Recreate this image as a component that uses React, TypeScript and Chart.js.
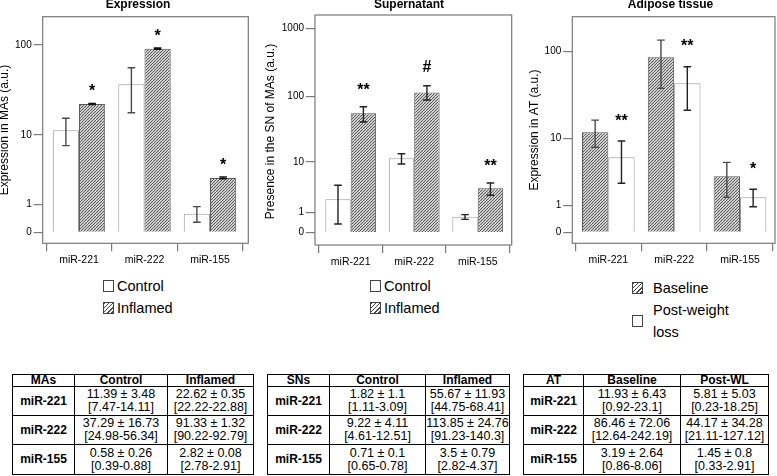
import React, { useEffect, useRef } from 'react';
import { Chart, registerables } from 'chart.js';

Chart.register(...registerables);

const FONT = "'Liberation Sans', Arial, Helvetica, sans-serif";

// ---------- data ----------
const categories = ['miR-221', 'miR-222', 'miR-155'];

// Panel 1: Expression in macrophages
const maControl = [11.39, 37.29, 0.58];
const maControlLow = [7.45, 18.0, 0.28];
const maControlHigh = [15.6, 56.7, 0.88];
const maInflamed = [22.62, 91.33, 2.82];
const maInflamedLow = [22.27, 90.0, 2.74];
const maInflamedHigh = [22.97, 92.65, 2.9];
const maSignificance = ['*', '*', '*'];
const maTicks = [0, 1, 10, 100];

// Panel 2: Supernatant
const snControl = [2.1, 11.4, 0.71];
const snControlLow = [0.34, 9.2, 0.57];
const snControlHigh = [3.97, 13.45, 0.84];
const snInflamed = [55.67, 113.85, 3.5];
const snInflamedLow = [41.2, 88.0, 2.54];
const snInflamedHigh = [69.8, 143.0, 4.37];
const snSignificance = ['**', '#', '**'];
const snTicks = [0, 1, 10, 100, 1000];

// Panel 3: Adipose tissue
const atBaseline = [11.93, 86.46, 3.19];
const atBaselineLow = [7.78, 38.6, 1.44];
const atBaselineHigh = [16.6, 135.0, 4.98];
const atPost = [5.81, 44.17, 1.45];
const atPostLow = [2.5, 21.6, 0.92];
const atPostHigh = [9.3, 67.9, 2.0];
const atSignificance = ['**', '**', '*'];
const atTicks = [0, 1, 10, 100];

// Tables
const maTableHead = ['MAs', 'Control', 'Inflamed'];
const maTableControl = [['11.39 ± 3.48', '[7.47-14.11]'], ['37.29 ± 16.73', '[24.98-56.34]'], ['0.58 ± 0.26', '[0.39-0.88]']];
const maTableInflamed = [['22.62 ± 0.35', '[22.22-22.88]'], ['91.33 ± 1.32', '[90.22-92.79]'], ['2.82 ± 0.08', '[2.78-2.91]']];
const snTableHead = ['SNs', 'Control', 'Inflamed'];
const snTableControl = [['1.82 ± 1.1', '[1.11-3.09]'], ['9.22 ± 4.11', '[4.61-12.51]'], ['0.71 ± 0.1', '[0.65-0.78]']];
const snTableInflamed = [['55.67 ± 11.93', '[44.75-68.41]'], ['113.85 ± 24.76', '[91.23-140.3]'], ['3.5 ± 0.79', '[2.82-4.37]']];
const atTableHead = ['AT', 'Baseline', 'Post-WL'];
const atTableBaseline = [['11.93 ± 6.43', '[0.92-23.1]'], ['86.46 ± 72.06', '[12.64-242.19]'], ['3.19 ± 2.64', '[0.86-8.06]']];
const atTablePost = [['5.81 ± 5.03', '[0.23-18.25]'], ['44.17 ± 34.28', '[21.11-127.12]'], ['1.45 ± 0.8', '[0.33-2.91]']];

// ---------- helpers ----------
const tf = (v: number) => Math.log10(v + 1);

function makeHatch(): any {
  const c = document.createElement('canvas');
  const s = 3;
  c.width = s;
  c.height = s;
  const g = c.getContext('2d')!;
  g.fillStyle = '#f4f4f4';
  g.fillRect(0, 0, s, s);
  g.strokeStyle = '#555555';
  g.lineWidth = 1.1;
  g.beginPath();
  for (const k of [-s, 0, s]) {
    g.moveTo(k, s);
    g.lineTo(k + s, 0);
  }
  g.stroke();
  return g.createPattern(c, 'repeat');
}

interface Series {
  label: string;
  values: number[];
  low: number[];
  high: number[];
  hatched: boolean;
  border: string;
  err: string;
}

interface PanelSpec {
  left: number;
  width: number;
  height: number;
  frame: { l: number; t: number; r: number; b: number };
  xMin: number;
  xMax: number;
  yMin: number;
  yMax: number;
  ticks: number[];
  title: string;
  titleX: number;
  yTitle: string;
  yTitleX: number;
  yTitleY: number;
  series: Series[];
  sig: string[];
  sigSeries: number;
  sigGap: number;
}

const panels: PanelSpec[] = [
  {
    left: 0, width: 255, height: 272,
    frame: { l: 42.7, t: 16.7, r: 248.3, b: 243.3 },
    xMin: -0.554, xMax: 2.585, yMin: -0.118, yMax: 2.307,
    ticks: maTicks,
    title: 'Expression', titleX: 138,
    yTitle: 'Expression in MAs (a.u.)', yTitleX: 5, yTitleY: 130,
    series: [
      { label: 'Control', values: maControl, low: maControlLow, high: maControlHigh, hatched: false, border: '#9a9a9a', err: '#4a4a4a' },
      { label: 'Inflamed', values: maInflamed, low: maInflamedLow, high: maInflamedHigh, hatched: true, border: '#5a5a5a', err: '#111111' },
    ],
    sig: maSignificance, sigSeries: 1, sigGap: 15.5,
  },
  {
    left: 255, width: 260, height: 272,
    frame: { l: 60, t: 15, r: 256.7, b: 245 },
    xMin: -0.562, xMax: 2.535, yMin: -0.181, yMax: 3.197,
    ticks: snTicks,
    title: 'Supernatant', titleX: 154,
    yTitle: 'Presence in the SN of MAs (a.u.)', yTitleX: 16, yTitleY: 131.5,
    series: [
      { label: 'Control', values: snControl, low: snControlLow, high: snControlHigh, hatched: false, border: '#9a9a9a', err: '#222222' },
      { label: 'Inflamed', values: snInflamed, low: snInflamedLow, high: snInflamedHigh, hatched: true, border: '#5a5a5a', err: '#222222' },
    ],
    sig: snSignificance, sigSeries: 1, sigGap: 20,
  },
  {
    left: 510, width: 267, height: 272,
    frame: { l: 62.3, t: 16.7, r: 265, b: 243.3 },
    xMin: -0.547, xMax: 2.532, yMin: -0.122, yMax: 2.393,
    ticks: atTicks,
    title: 'Adipose tissue', titleX: 160.5,
    yTitle: 'Expression in AT (a.u.)', yTitleX: 25, yTitleY: 130,
    series: [
      { label: 'Baseline', values: atBaseline, low: atBaselineLow, high: atBaselineHigh, hatched: true, border: '#5a5a5a', err: '#4a4a4a' },
      { label: 'Post-weight loss', values: atPost, low: atPostLow, high: atPostHigh, hatched: false, border: '#9a9a9a', err: '#222222' },
    ],
    sig: atSignificance, sigSeries: 1, sigGap: 24,
  },
];

function Panel({ spec }: { spec: PanelSpec }) {
  const ref = useRef<HTMLCanvasElement | null>(null);
  useEffect(() => {
    const canvas = ref.current;
    if (!canvas) return;
    const hatch = makeHatch();
    const f = spec.frame;
    const decor = {
      id: 'decor',
      afterDatasetsDraw(chart: any) {
        const ctx = chart.ctx;
        const ys = chart.scales.y;
        ctx.save();
        spec.series.forEach((s, d) => {
          const meta = chart.getDatasetMeta(d);
          meta.data.forEach((bar: any, i: number) => {
            const x = bar.x;
            const yH = ys.getPixelForValue(tf(s.high[i]));
            const yL = ys.getPixelForValue(tf(s.low[i]));
            ctx.strokeStyle = s.err;
            ctx.lineWidth = 1.4;
            ctx.beginPath();
            ctx.moveTo(x, yH);
            ctx.lineTo(x, yL);
            ctx.moveTo(x - 3.8, yH);
            ctx.lineTo(x + 3.8, yH);
            ctx.moveTo(x - 3.8, yL);
            ctx.lineTo(x + 3.8, yL);
            ctx.stroke();
          });
        });
        // significance markers
        const sS = spec.series[spec.sigSeries];
        const meta = chart.getDatasetMeta(spec.sigSeries);
        ctx.fillStyle = '#000';
        ctx.font = `bold 16px ${FONT}`;
        ctx.textAlign = 'center';
        ctx.textBaseline = 'alphabetic';
        spec.sig.forEach((m, i) => {
          if (!m) return;
          const bar: any = meta.data[i];
          const cy = ys.getPixelForValue(tf(sS.high[i])) - spec.sigGap;
          const mt = ctx.measureText(m);
          const base = cy + (mt.actualBoundingBoxAscent - mt.actualBoundingBoxDescent) / 2;
          ctx.fillText(m, bar.x, base);
        });
        ctx.restore();
      },
      afterDraw(chart: any) {
        const ctx = chart.ctx;
        const a = chart.chartArea;
        ctx.save();
        ctx.strokeStyle = '#7a7a7a';
        ctx.lineWidth = 1.2;
        ctx.strokeRect(a.left, a.top, a.right - a.left, a.bottom - a.top);
        ctx.fillStyle = '#000';
        ctx.font = `bold 12px ${FONT}`;
        ctx.textAlign = 'center';
        ctx.textBaseline = 'alphabetic';
        ctx.fillText(spec.title, spec.titleX, 7.5);
        ctx.translate(spec.yTitleX, spec.yTitleY);
        ctx.rotate(-Math.PI / 2);
        ctx.font = `12px ${FONT}`;
        ctx.textBaseline = 'middle';
        ctx.fillText(spec.yTitle, 0, 0);
        ctx.restore();
      },
    };
    const chart = new Chart(canvas, {
      type: 'bar',
      data: {
        datasets: spec.series.map((s) => ({
          label: s.label,
          data: s.values.map((v, i) => ({ x: i, y: tf(v) })),
          backgroundColor: s.hatched ? hatch : '#ffffff',
          borderColor: s.border,
          borderWidth: 1,
          categoryPercentage: 0.8,
          barPercentage: 1.0,
        })),
      } as any,
      options: {
        animation: false,
        responsive: false,
        events: [],
        layout: { padding: { left: 0, top: f.t, right: spec.width - f.r, bottom: 0 } },
        plugins: { legend: { display: false }, tooltip: { enabled: false }, title: { display: false } },
        scales: {
          x: {
            type: 'linear',
            min: spec.xMin,
            max: spec.xMax,
            offset: false,
            afterFit: (s: any) => { s.height = spec.height - f.b; },
            afterBuildTicks: (s: any) => { s.ticks = categories.map((_, i) => ({ value: i })); },
            ticks: {
              callback: (v: any) => categories[Math.round(v)] ?? '',
              font: { family: FONT, size: 10.5 },
              color: '#000',
              padding: 3,
              maxRotation: 0,
              autoSkip: false,
            },
            grid: { drawOnChartArea: false, drawTicks: true, tickLength: 8, color: '#7a7a7a', lineWidth: 1.2 },
            border: { display: false },
          },
          y: {
            type: 'linear',
            min: spec.yMin,
            max: spec.yMax,
            afterFit: (s: any) => { s.width = f.l; },
            afterBuildTicks: (s: any) => { s.ticks = spec.ticks.map((v) => ({ value: tf(v) })); },
            ticks: {
              callback: (_v: any, i: number) => String(spec.ticks[i]),
              font: { family: FONT, size: 10 },
              color: '#000',
              padding: 2,
              autoSkip: false,
            },
            grid: { drawOnChartArea: false, drawTicks: true, tickLength: 9, color: '#7a7a7a', lineWidth: 1.2 },
            border: { display: false },
          },
        },
      } as any,
      plugins: [decor],
    });
    return () => chart.destroy();
  }, [spec]);
  return (
    <canvas
      ref={ref}
      width={spec.width}
      height={spec.height}
      style={{ position: 'absolute', left: spec.left, top: 0, width: spec.width, height: spec.height }}
    />
  );
}

const hatchCss = 'repeating-linear-gradient(135deg, #4a4a4a 0px, #4a4a4a 1px, #ffffff 1px, #ffffff 3px)';

function Swatch({ hatched, left, top }: { hatched: boolean; left: number; top: number }) {
  return (
    <div
      style={{
        position: 'absolute', left, top, width: 9, height: 10,
        border: '1px solid #444', background: hatched ? hatchCss : '#fff',
      }}
    />
  );
}

function LegendText({ text, left, cy }: { text: string; left: number; cy: number }) {
  return (
    <div
      style={{
        position: 'absolute', left, top: cy - 9, height: 18, lineHeight: '18px',
        fontFamily: FONT, fontSize: 14.5, color: '#000', whiteSpace: 'nowrap',
      }}
    >
      {text}
    </div>
  );
}

function DataTable({ left, width, cols, head, a, b }: { left: number; width: number; cols: number[]; head: string[]; a: string[][]; b: string[][] }) {
  const cell: React.CSSProperties = {
    border: '1px solid #000', textAlign: 'center', verticalAlign: 'middle', padding: 0,
    fontFamily: FONT, fontSize: 12.5, lineHeight: '13px', color: '#000', whiteSpace: 'nowrap',
  };
  const rowH = [29, 29, 30];
  return (
    <table
      style={{
        position: 'absolute', left, top: 374, width, borderCollapse: 'collapse', tableLayout: 'fixed',
        border: '1.5px solid #000',
      }}
    >
      <colgroup>
        {cols.map((c, i) => <col key={i} style={{ width: c }} />)}
      </colgroup>
      <tbody>
        <tr style={{ height: 12 }}>
          {head.map((h, i) => <td key={i} style={{ ...cell, fontWeight: 'bold', fontSize: 12, lineHeight: '11px' }}>{h}</td>)}
        </tr>
        {categories.map((c, r) => (
          <tr key={c} style={{ height: rowH[r] }}>
            <td style={{ ...cell, fontWeight: 'bold', fontSize: 12 }}>{c}</td>
            <td style={cell}>{a[r][0]}<br />{a[r][1]}</td>
            <td style={cell}>{b[r][0]}<br />{b[r][1]}</td>
          </tr>
        ))}
      </tbody>
    </table>
  );
}

export default function App() {
  return (
    <div style={{ position: 'absolute', left: 0, top: 0, width: 777, height: 476, background: '#fff', overflow: 'hidden' }}>
      {panels.map((p, i) => <Panel key={i} spec={p} />)}

      <Swatch hatched={false} left={103} top={280} />
      <LegendText text="Control" left={117} cy={286} />
      <Swatch hatched={true} left={103} top={302} />
      <LegendText text="Inflamed" left={117} cy={308} />

      <Swatch hatched={false} left={370} top={280} />
      <LegendText text="Control" left={384} cy={286} />
      <Swatch hatched={true} left={370} top={302} />
      <LegendText text="Inflamed" left={384} cy={308} />

      <Swatch hatched={true} left={632} top={282} />
      <LegendText text="Baseline" left={653} cy={288} />
      <Swatch hatched={false} left={632} top={315} />
      <LegendText text="Post-weight" left={653} cy={310} />
      <LegendText text="loss" left={653} cy={331.5} />

      <DataTable left={12} width={241} cols={[62, 93, 86]} head={maTableHead} a={maTableControl} b={maTableInflamed} />
      <DataTable left={267} width={242} cols={[62, 96, 84]} head={snTableHead} a={snTableControl} b={snTableInflamed} />
      <DataTable left={523} width={245} cols={[60, 97, 88]} head={atTableHead} a={atTableBaseline} b={atTablePost} />
    </div>
  );
}
